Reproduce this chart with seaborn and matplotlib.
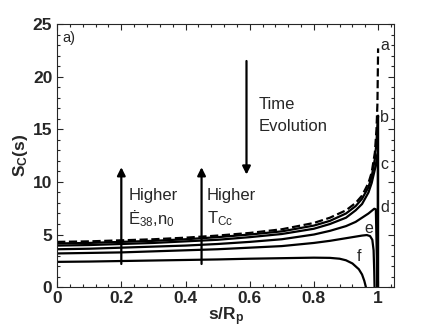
import numpy as np
import pandas as pd
import matplotlib
matplotlib.use("Agg")
import matplotlib.pyplot as plt
import seaborn as sns

# curve values (s/R_p, S_C)
s_a = [0, 0.1, 0.2, 0.3, 0.4, 0.5, 0.6, 0.7, 0.8, 0.85, 0.9, 0.93, 0.95, 0.97, 0.98, 0.99, 0.995, 0.998, 1.0]
S_a = [4.3, 4.35, 4.45, 4.55, 4.7, 4.9, 5.15, 5.5, 6.1, 6.6, 7.3, 8.0, 8.7, 9.9, 10.9, 12.8, 15.0, 17.5, 22.7]

s_b = [0, 0.1, 0.2, 0.3, 0.4, 0.5, 0.6, 0.7, 0.8, 0.85, 0.9, 0.93, 0.95, 0.97, 0.98, 0.99, 0.995, 0.998, 1.0, 1.0]
S_b = [4.15, 4.2, 4.3, 4.4, 4.55, 4.75, 5.0, 5.3, 5.85, 6.3, 7.0, 7.7, 8.4, 9.5, 10.5, 12.2, 13.8, 15.5, 16.3, 0]

s_c = [0, 0.1, 0.2, 0.3, 0.4, 0.5, 0.6, 0.7, 0.8, 0.85, 0.9, 0.93, 0.95, 0.97, 0.98, 0.99, 0.995, 0.998, 0.999, 0.999]
S_c = [3.95, 4.0, 4.1, 4.2, 4.35, 4.5, 4.75, 5.05, 5.55, 6.0, 6.6, 7.3, 7.9, 9.0, 9.9, 11.2, 12.0, 12.5, 12.7, 0]

s_d = [0, 0.1, 0.2, 0.3, 0.4, 0.5, 0.6, 0.7, 0.8, 0.85, 0.9, 0.93, 0.95, 0.97, 0.98, 0.988, 0.993, 0.996, 0.997]
S_d = [3.6, 3.65, 3.75, 3.85, 3.95, 4.1, 4.3, 4.55, 5.0, 5.35, 5.8, 6.2, 6.6, 7.0, 7.25, 7.45, 7.4, 3.0, 0]

s_e = [0, 0.1, 0.2, 0.3, 0.4, 0.5, 0.6, 0.7, 0.8, 0.85, 0.9, 0.93, 0.95, 0.965, 0.975, 0.982, 0.986, 0.988, 0.989]
S_e = [3.2, 3.25, 3.3, 3.4, 3.5, 3.6, 3.75, 3.9, 4.2, 4.4, 4.65, 4.8, 4.9, 4.95, 4.85, 4.5, 3.5, 1.5, 0]

s_f = [0, 0.1, 0.2, 0.3, 0.4, 0.5, 0.6, 0.7, 0.8, 0.85, 0.88, 0.9, 0.92, 0.94, 0.95, 0.957, 0.962]
S_f = [2.4, 2.43, 2.48, 2.53, 2.58, 2.63, 2.7, 2.75, 2.8, 2.78, 2.7, 2.55, 2.25, 1.7, 1.2, 0.6, 0]

curve_names = ["a", "b", "c", "d", "e", "f"]
label_pos = [(1.02, 23.0), (1.02, 16.1), (1.02, 11.7), (1.02, 7.6), (0.97, 5.6), (0.94, 2.9)]

sns.set_style("ticks")
plt.rcParams['font.family'] = ['Liberation Sans', 'DejaVu Sans']
plt.rcParams['mathtext.fontset'] = 'custom'
plt.rcParams['mathtext.rm'] = 'Liberation Sans'
plt.rcParams['mathtext.it'] = 'Liberation Sans:italic'
plt.rcParams['mathtext.bf'] = 'Liberation Sans:bold'

fig = plt.figure(figsize=(4.36, 3.27), dpi=100)
ax = fig.add_axes([0.131, 0.122, 0.773, 0.804])

curves = [(s_a, S_a), (s_b, S_b), (s_c, S_c), (s_d, S_d), (s_e, S_e), (s_f, S_f)]
for i, (s, S) in enumerate(curves):
    df = pd.DataFrame({"s": s, "S": S})
    sns.lineplot(data=df, x="s", y="S", sort=False, estimator=None, color="black",
                 lw=1.6, linestyle="--" if i == 0 else "-", ax=ax)

for name, (x, y) in zip(curve_names, label_pos):
    ax.text(x, y, name, fontsize=11.5, ha="center", va="center")

# arrows
arrow = dict(arrowstyle="-|>", color="black", lw=1.6, mutation_scale=12, shrinkA=0, shrinkB=0)
ax.annotate("", xy=(0.2, 11.4), xytext=(0.2, 2.2), arrowprops=arrow)
ax.annotate("", xy=(0.45, 11.4), xytext=(0.45, 2.2), arrowprops=arrow)
ax.annotate("", xy=(0.59, 10.7), xytext=(0.59, 21.5), arrowprops=arrow)

ax.text(0.222, 8.7, "Higher", fontsize=12, va="center")
ax.text(0.222, 6.5, r"Ė$_{\mathrm{38}}$,n$_{\mathrm{0}}$", fontsize=12, va="center")
ax.text(0.467, 8.7, "Higher", fontsize=12, va="center")
ax.text(0.467, 6.5, r"T$_{\mathrm{Cc}}$", fontsize=12, va="center")
ax.text(0.628, 17.4, "Time", fontsize=12, va="center")
ax.text(0.628, 15.3, "Evolution", fontsize=12, va="center")
ax.text(0.015, 23.7, "a)", fontsize=10.5, va="center")

ax.set_xlim(0, 1.05)
ax.set_ylim(0, 25)
ax.set_xticks([0, 0.2, 0.4, 0.6, 0.8, 1.0])
ax.set_xticklabels(["0", "0.2", "0.4", "0.6", "0.8", "1"])
ax.set_yticks([0, 5, 10, 15, 20, 25])
ax.set_xticks(np.arange(0, 1.05, 0.04), minor=True)
ax.set_yticks(np.arange(0, 26, 1), minor=True)
ax.tick_params(which="both", direction="in", top=True, right=True, width=0.8)
ax.tick_params(which="major", length=4, labelsize=12.5)
ax.tick_params(axis="x", which="major", pad=2.5)
ax.tick_params(axis="y", which="major", pad=3.5)
ax.tick_params(which="minor", length=2)
for lab in ax.get_xticklabels() + ax.get_yticklabels():
    lab.set_fontweight("bold")
for sp in ax.spines.values():
    sp.set_linewidth(0.8)

ax.set_xlabel(r"$\mathbf{s/R_p}$", fontsize=12.5, labelpad=0)
ax.set_ylabel(r"$\mathbf{S_C(s)}$", fontsize=12.5, labelpad=2)

fig.savefig("out.png", dpi=100)
